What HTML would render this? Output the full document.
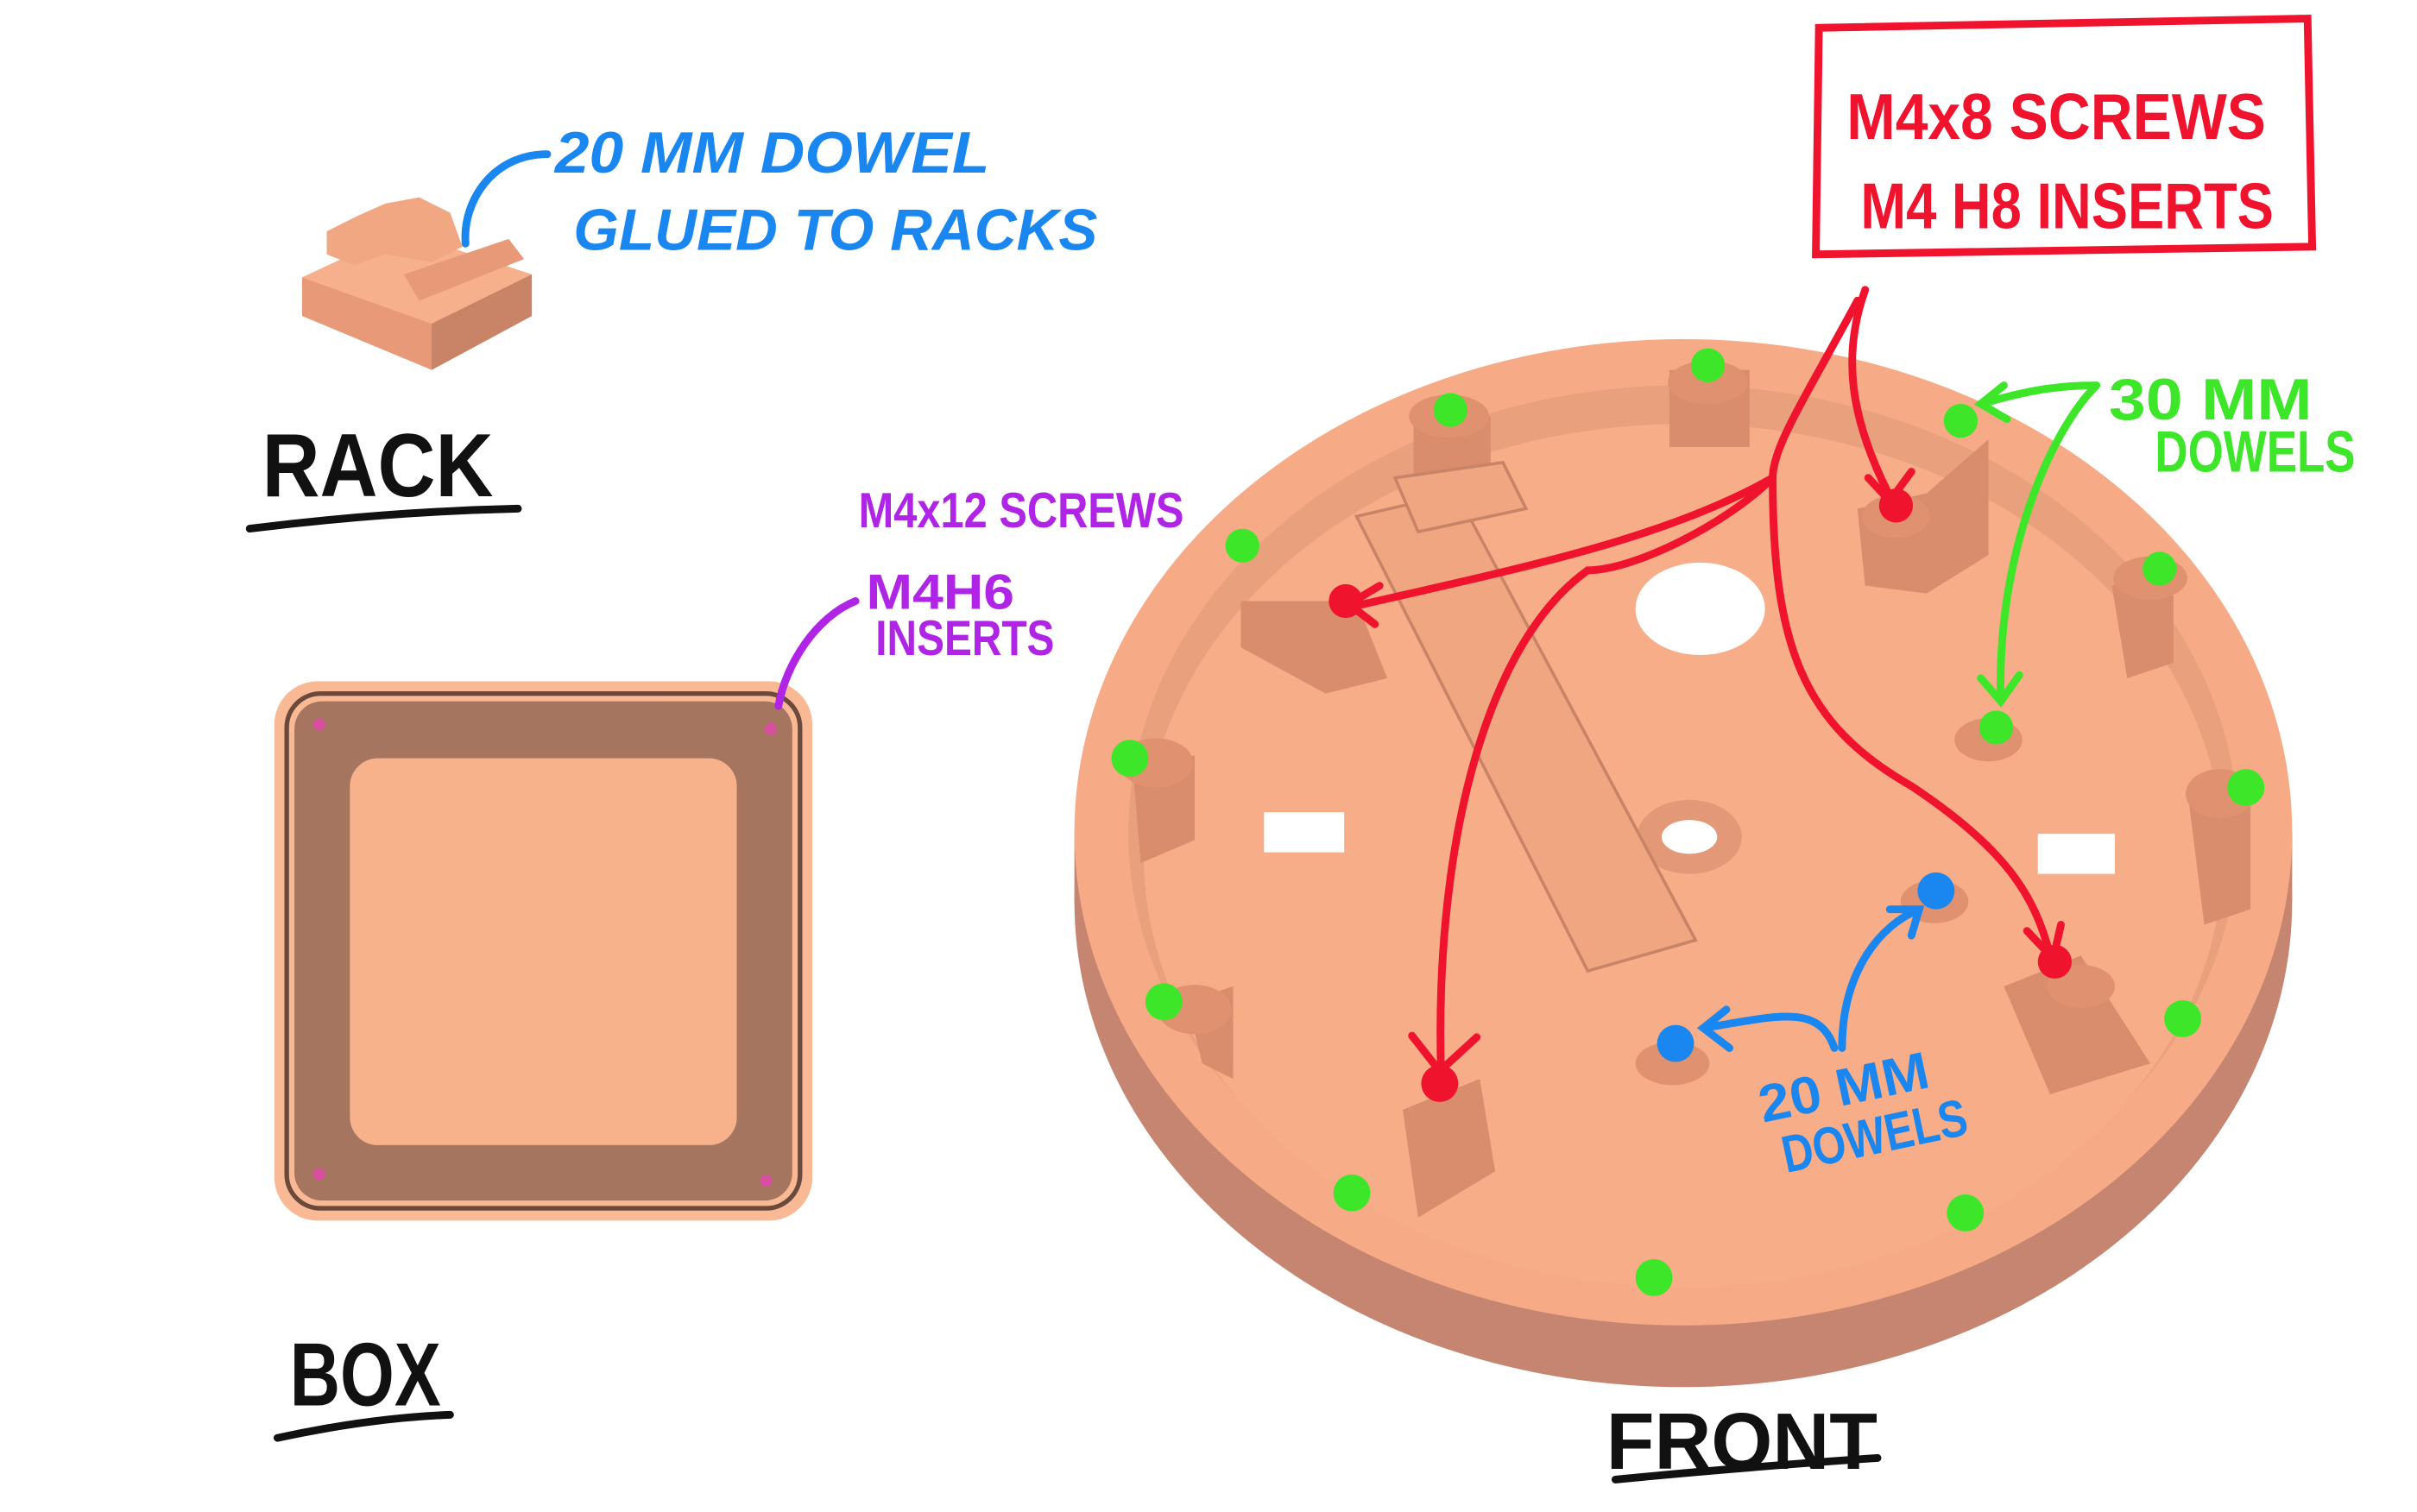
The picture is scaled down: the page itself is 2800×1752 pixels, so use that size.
<!DOCTYPE html>
<html><head><meta charset="utf-8">
<style>
html,body{margin:0;padding:0;background:#fff;}
svg{display:block;}
text{font-family:"Liberation Sans",sans-serif;font-weight:bold;}
</style></head>
<body>
<svg width="2800" height="1752" viewBox="0 0 1568 981" xmlns="http://www.w3.org/2000/svg">
<rect width="1568" height="981" fill="#fff"/>

<!-- RACK block -->
<g>
<polygon points="196,180 260,150 345,178 345,205 280,240 196,205" fill="#e89a78"/>
<polygon points="196,180 260,150 345,178 280,210" fill="#f7b08c"/>
<polygon points="212,150 232,140 250,132 272,128 292,138 300,160 280,170 250,165 230,172 212,165" fill="#f2a783"/>
<polygon points="280,210 345,178 345,205 280,240" fill="#c98468"/>
<polygon points="262,178 330,155 340,168 272,195" fill="#e89a78"/>
</g>
<path d="M355,100 C320,100 300,130 302,158" stroke="#1a86f0" stroke-width="5" fill="none" stroke-linecap="round"/>
<text x="360" y="112" font-size="38" fill="#1a86f0" font-style="italic" textLength="282" lengthAdjust="spacingAndGlyphs">20 MM  DOWEL</text>
<text x="372" y="162" font-size="38" fill="#1a86f0" font-style="italic" textLength="340" lengthAdjust="spacingAndGlyphs">GLUED TO RACKS</text>
<text x="170" y="322" font-size="58" fill="#111" textLength="150" lengthAdjust="spacingAndGlyphs">RACK</text>
<path d="M162,343 Q250,332 336,330" stroke="#111" stroke-width="5" fill="none" stroke-linecap="round"/>

<!-- BOX -->
<rect x="178" y="442" width="349" height="350" rx="28" fill="#f9b995"/>
<rect x="186" y="450" width="333" height="334" rx="22" fill="none" stroke="#6b4a3c" stroke-width="3"/>
<rect x="191" y="455" width="323" height="324" rx="18" fill="#a5755f"/>
<rect x="227" y="492" width="251" height="251" rx="18" fill="#f7b28c"/>
<circle cx="207" cy="470" r="4" fill="#d94fa0"/>
<circle cx="500" cy="473" r="4" fill="#d94fa0"/>
<circle cx="207" cy="762" r="4" fill="#d94fa0"/>
<circle cx="497" cy="766" r="4" fill="#d94fa0"/>
<path d="M555,390 C530,400 510,430 505,458" stroke="#b024e6" stroke-width="5" fill="none" stroke-linecap="round"/>
<text x="557" y="342" font-size="32" fill="#b024e6" textLength="211" lengthAdjust="spacingAndGlyphs">M4x12 SCREWS</text>
<text x="562" y="395" font-size="32" fill="#b024e6" textLength="96" lengthAdjust="spacingAndGlyphs">M4H6</text>
<text x="568" y="425" font-size="32" fill="#b024e6" textLength="116" lengthAdjust="spacingAndGlyphs">INSERTS</text>
<text x="188" y="912" font-size="58" fill="#111" textLength="98" lengthAdjust="spacingAndGlyphs">BOX</text>
<path d="M180,933 Q240,920 292,918" stroke="#111" stroke-width="5" fill="none" stroke-linecap="round"/>

<!-- FRONT disc -->
<ellipse cx="1092" cy="585" rx="395" ry="315" fill="#c58570"/>
<rect x="697" y="540" width="790" height="45" fill="#c58570"/>
<ellipse cx="1092" cy="540" rx="395" ry="320" fill="#f6ab86"/>
<ellipse cx="1092" cy="540" rx="360" ry="290" fill="#e9a07d"/>
<ellipse cx="1092" cy="555" rx="350" ry="280" fill="#f7ae88"/>
<!-- walls / pillars -->
<g fill="#d98d6c">
<rect x="917" y="270" width="50" height="40"/><rect x="1083" y="240" width="52" height="50"/>
<polygon points="1205,330 1250,320 1290,285 1290,360 1250,385 1210,380"/>
<polygon points="1370,380 1410,370 1410,430 1380,440"/>
<polygon points="805,390 880,390 900,440 860,450 805,420"/>
<polygon points="735,500 775,490 775,545 740,560"/>
<polygon points="1420,520 1460,510 1460,590 1430,600"/>
<polygon points="1300,640 1350,620 1395,690 1330,710"/>
<polygon points="770,650 800,640 800,700 780,690"/>
<polygon points="910,720 960,700 970,760 920,790"/>
</g>
<ellipse cx="1103" cy="395" rx="42" ry="30" fill="#fff"/>
<ellipse cx="1096" cy="543" rx="34" ry="24" fill="#e39877"/>
<ellipse cx="1096" cy="543" rx="18" ry="11" fill="#fff"/>
<rect x="820" y="527" width="52" height="26" fill="#fff"/>
<rect x="1322" y="541" width="50" height="26" fill="#fff"/>
<polygon points="880,335 945,320 1100,610 1030,630" fill="#f0a781" stroke="#c98468" stroke-width="2"/>
<polygon points="905,310 975,300 990,330 920,345" fill="#f0a781" stroke="#c98468" stroke-width="2"/>
<g fill="#e0916f">
<ellipse cx="1108" cy="248" rx="26" ry="14"/><ellipse cx="940" cy="270" rx="26" ry="14"/>
<ellipse cx="1230" cy="335" rx="22" ry="14"/><ellipse cx="1395" cy="375" rx="24" ry="14"/>
<ellipse cx="1290" cy="480" rx="22" ry="14"/><ellipse cx="750" cy="495" rx="24" ry="16"/>
<ellipse cx="1440" cy="515" rx="22" ry="16"/><ellipse cx="1255" cy="585" rx="22" ry="14"/>
<ellipse cx="1085" cy="690" rx="24" ry="14"/><ellipse cx="775" cy="655" rx="24" ry="16"/>
<ellipse cx="1350" cy="640" rx="22" ry="14"/>
</g>
<g fill="#3ee62a">
<circle cx="1108" cy="237" r="11"/><circle cx="941" cy="266" r="11"/><circle cx="806" cy="354" r="11"/>
<circle cx="1272" cy="273" r="11"/><circle cx="1401" cy="369" r="11"/><circle cx="1295" cy="472" r="11"/>
<circle cx="733" cy="492" r="12"/><circle cx="1457" cy="511" r="12"/><circle cx="755" cy="650" r="12"/>
<circle cx="1416" cy="661" r="12"/><circle cx="877" cy="774" r="12"/><circle cx="1275" cy="787" r="12"/>
<circle cx="1073" cy="829" r="12"/>
</g>
<g fill="#f0132e">
<circle cx="1230" cy="328" r="11"/><circle cx="873" cy="390" r="11"/><circle cx="1333" cy="624" r="11"/><circle cx="934" cy="703" r="12"/>
</g>
<g fill="#1a86f0"><circle cx="1256" cy="578" r="12"/><circle cx="1087" cy="677" r="12"/></g>

<!-- red annotations -->
<path d="M1180,18 L1497,12 L1500,160 L1178,165 Z" fill="none" stroke="#f0132e" stroke-width="5"/>
<text x="1198" y="90" font-size="42" fill="#f0132e" textLength="272" lengthAdjust="spacingAndGlyphs">M4x8 SCREWS</text>
<text x="1207" y="148" font-size="42" fill="#f0132e" textLength="268" lengthAdjust="spacingAndGlyphs">M4 H8 INSERTS</text>
<g stroke="#f0132e" stroke-width="5" fill="none" stroke-linecap="round">
<path d="M1210,188 C1195,230 1200,270 1225,320"/>
<path d="M1205,195 C1170,260 1150,290 1150,310 C1080,350 980,370 880,393"/>
<path d="M1150,310 C1120,340 1060,370 1030,370 C960,420 930,560 935,700"/>
<path d="M1150,310 C1150,420 1170,470 1240,510 C1300,550 1320,580 1330,620"/>
<path d="M1212,310 L1226,325 L1240,306"/><path d="M895,380 L875,392 L892,405"/>
<path d="M916,672 L934,695 L958,673"/><path d="M1315,604 L1332,622 L1337,600"/>
</g>
<!-- green -->
<g stroke="#3ee62a" stroke-width="5" fill="none" stroke-linecap="round">
<path d="M1360,250 C1330,250 1310,255 1285,262"/>
<path d="M1360,250 C1330,280 1295,360 1298,455"/>
<path d="M1300,250 L1285,262 L1302,272"/><path d="M1285,440 L1298,455 L1310,438"/>
</g>
<text x="1368" y="272" font-size="38" fill="#3ee62a" textLength="132" lengthAdjust="spacingAndGlyphs">30 MM</text>
<text x="1398" y="306" font-size="38" fill="#3ee62a" textLength="130" lengthAdjust="spacingAndGlyphs">DOWELS</text>
<!-- blue -->
<g stroke="#1a86f0" stroke-width="5" fill="none" stroke-linecap="round">
<path d="M1190,680 C1180,650 1150,660 1105,667"/>
<path d="M1195,680 C1195,630 1220,600 1245,590"/>
<path d="M1120,655 L1105,667 L1122,680"/><path d="M1226,590 L1245,590 L1240,607"/>
</g>
<g transform="rotate(-12 1145 720)">
<text x="1142" y="728" font-size="34" fill="#1a86f0" textLength="112" lengthAdjust="spacingAndGlyphs">20 MM</text>
<text x="1150" y="763" font-size="34" fill="#1a86f0" textLength="122" lengthAdjust="spacingAndGlyphs">DOWELS</text>
</g>
<text x="1042" y="953" font-size="52" fill="#111" textLength="176" lengthAdjust="spacingAndGlyphs">FRONT</text>
<path d="M1048,960 Q1130,952 1218,946" stroke="#111" stroke-width="5" fill="none" stroke-linecap="round"/>
</svg>
</body></html>
